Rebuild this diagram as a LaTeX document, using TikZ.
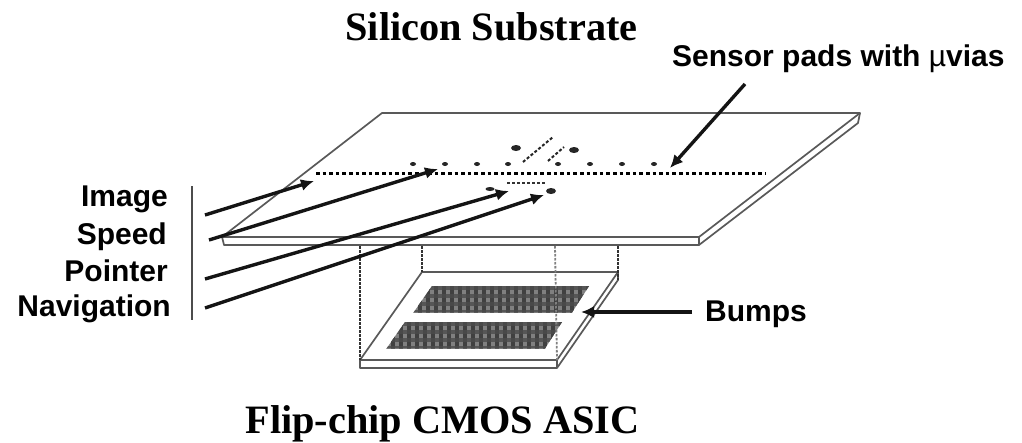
\documentclass[tikz,border=0pt]{standalone}
\usepackage{fontspec}
\setmainfont{Liberation Serif}
\setsansfont{Liberation Sans}
\usetikzlibrary{arrows.meta, positioning, shapes.geometric}
\tikzstyle{titulo} = [font=\rmfamily\bfseries\fontsize{40.3}{40}\selectfont, inner sep=0pt, anchor=base]
\tikzstyle{etiqueta} = [font=\sffamily\bfseries\fontsize{30}{30}\selectfont, inner sep=0pt]
\tikzstyle{borde} = [draw=black!65, line width=1.7pt, line join=round]
\tikzstyle{punteada} = [draw=black!80, line width=1.8pt, dash pattern=on 2.5pt off 1.5pt]
\tikzstyle{flecha} = [draw=black!92, line width=3.4pt, -{Latex[length=13pt,width=12pt]}]
\tikzstyle{pad} = [fill=black!85, inner sep=0pt, minimum width=6pt, minimum height=4pt, ellipse]

\begin{document}
\begin{tikzpicture}[x=1pt,y=-1pt]
		\useasboundingbox (0,0) rectangle (1022,442);
		% textos
		\node [titulo] (sustrato) at (491.5,40) {Silicon Substrate};
		\node [titulo] (asic) at (442.5,433.5) {Flip-chip CMOS ASIC};
		\node [etiqueta, anchor=base east] (image) at (168,206) {Image};
		\node [etiqueta, anchor=base east] (speed) at (167,244) {Speed};
		\node [etiqueta, anchor=base east] (pointer) at (168,281) {Pointer};
		\node [etiqueta, anchor=base east] (navigation) at (171,316) {Navigation};
		\node [etiqueta, anchor=base west] (sensor) at (672,66) {Sensor pads with {\mdseries µ}vias};
		\node [etiqueta, anchor=base west] (bumps) at (705,321) {Bumps};
		% sustrato
		\coordinate (ptl) at (382,113);
		\coordinate (ptr) at (860,113);
		\coordinate (pfr) at (699,237);
		\coordinate (pfl) at (222,237);
		\coordinate (pbl) at (224,245);
		\coordinate (pbr) at (699,245);
		\draw [borde] (pfl) -- (ptl) -- (ptr) -- (pfr) -- cycle;
		\draw [borde] (pfl) -- (pbl) -- (pbr) -- (858,123) -- (ptr);
		\draw [borde] (pfr) -- (pbr);
		% chip
		\coordinate (ctl) at (422,272);
		\coordinate (ctr) at (618,272);
		\coordinate (cfr) at (557,360);
		\coordinate (cfl) at (360,360);
		\coordinate (cbr) at (557,368);
		\draw [borde] (cfl) -- (ctl) -- (ctr) -- (cfr) -- cycle;
		\draw [borde] (cfl) -- (360,368) -- (cbr) -- (cfr);
		\draw [borde] (cbr) -- (618,280) -- (ctr);
		\draw [punteada] (360,246) -- (cfl);
		\draw [punteada] (422,246) -- (ctl);
		\draw [punteada] (618,246) -- (618,280);
		% bumps
		\foreach \ox/\oy in {432/286, 405/322}{
			\begin{scope}
				\clip (\ox,\oy) -- (\ox+157,\oy) -- (\ox+140,\oy+26.5) -- (\ox-18.5,\oy+26.5) -- cycle;
				\fill [black!50] (\ox-20,\oy) rectangle (\ox+160,\oy+27);
				\foreach \i in {0,...,22}
					\draw [black!75, line width=3.4pt] (\ox-20+\i*8,\oy) -- (\ox-20+\i*8,\oy+27);
				\foreach \j in {0,...,3}
					\draw [black!70, line width=3.4pt, opacity=0.8] (\ox-20,\oy+2+\j*8) -- (\ox+160,\oy+2+\j*8);
			\end{scope}
		}
		\draw [punteada, draw=black!50] (555,246) -- (cfr);
		% pads
		\draw [black, line width=3.5pt, dash pattern=on 3.6pt off 3pt] (316,173.5) -- (765,173.5);
		\draw [black!80, line width=2pt, dash pattern=on 3pt off 2pt] (507,183) -- (546,183);
		\draw [black!85, line width=2pt, dash pattern=on 3pt off 2pt] (523,162) -- (553,137);
		\draw [black!85, line width=2pt, dash pattern=on 3pt off 2pt] (548,161) -- (564,147);
		\foreach \x in {413,445,477,508,558,590,622,654}
			\node [pad] (p\x) at (\x,164) {};
		\node [pad, minimum width=10pt, minimum height=6pt] (blobizq) at (516,148) {};
		\node [pad, minimum width=10pt, minimum height=6pt] (blobder) at (574,150) {};
		\node [pad, minimum width=9pt, minimum height=4pt] (blobptr) at (490,189) {};
		\node [pad, minimum width=10pt, minimum height=6pt] (blobnav) at (551,191) {};
		% flechas
		\draw [black!70, line width=2pt] (192,186) -- (192,320);
		\coordinate (simage) at (205,215);
		\coordinate (eimage) at (314,181);
		\coordinate (sspeed) at (209,240);
		\coordinate (espeed) at (438,169);
		\coordinate (spointer) at (205,279);
		\coordinate (epointer) at (509,191);
		\coordinate (snav) at (205,308);
		\coordinate (enav) at (544,195);
		\coordinate (ssensor) at (745,84);
		\coordinate (esensor) at (670,168);
		\coordinate (sbumps) at (692,312);
		\coordinate (ebumps) at (581,312);
		\draw [flecha] (simage) -- (eimage);
		\draw [flecha] (sspeed) -- (espeed);
		\draw [flecha] (spointer) -- (epointer);
		\draw [flecha] (snav) -- (enav);
		\draw [flecha] (ssensor) -- (esensor);
		\draw [flecha] (sbumps) -- (ebumps);
	\end{tikzpicture}
\end{document}
